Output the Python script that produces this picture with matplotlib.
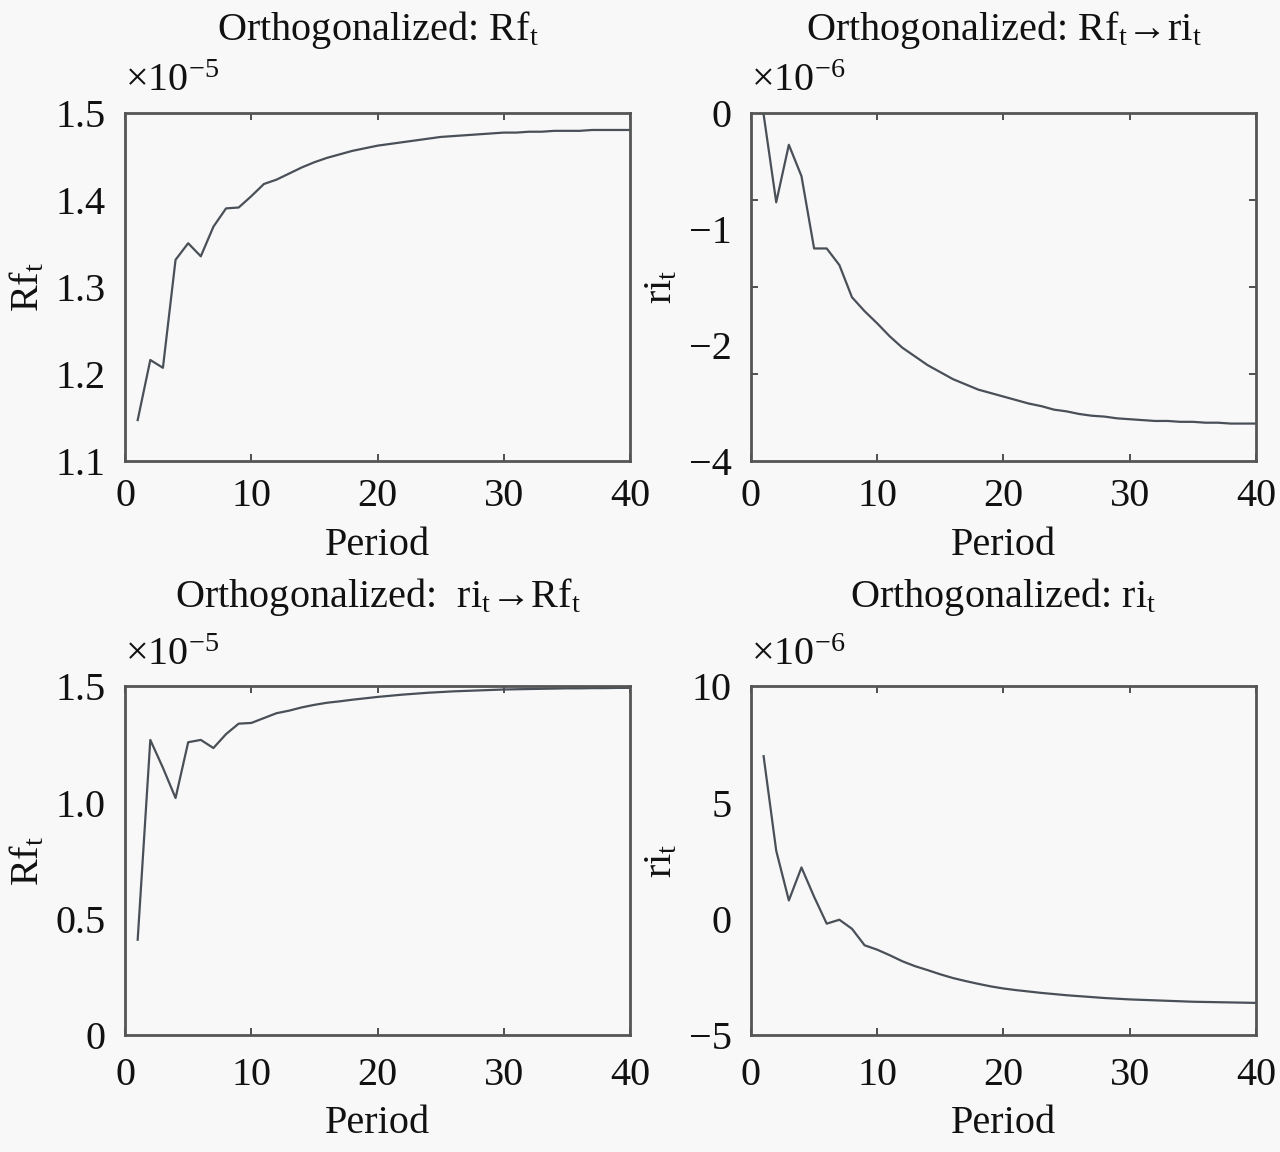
import numpy as np
import matplotlib
matplotlib.use("Agg")
import matplotlib.pyplot as plt

plt.rcParams["font.family"] = ["Liberation Serif", "DejaVu Serif"]
plt.rcParams["mathtext.fontset"] = "custom"
plt.rcParams["mathtext.rm"] = "Liberation Serif"
plt.rcParams["mathtext.it"] = "Liberation Serif:italic"

# Impulse responses, periods 1..40 (values in units of the axis multiplier)
period = np.arange(1, 41)

rf_to_rf = [1.147, 1.216, 1.207, 1.331, 1.350, 1.335, 1.369, 1.390, 1.391, 1.404,
            1.418, 1.423, 1.430, 1.437, 1.443, 1.448, 1.452, 1.456, 1.459, 1.462,
            1.464, 1.466, 1.468, 1.470, 1.472, 1.473, 1.474, 1.475, 1.476, 1.477,
            1.477, 1.478, 1.478, 1.479, 1.479, 1.479, 1.480, 1.480, 1.480, 1.480]

rf_to_ri = [-0.02, -1.03, -0.37, -0.73, -1.56, -1.56, -1.75, -2.12, -2.28, -2.42,
            -2.57, -2.70, -2.80, -2.90, -2.98, -3.06, -3.12, -3.18, -3.22, -3.26,
            -3.30, -3.34, -3.37, -3.41, -3.43, -3.46, -3.48, -3.49, -3.51, -3.52,
            -3.53, -3.54, -3.54, -3.55, -3.55, -3.56, -3.56, -3.57, -3.57, -3.57]

ri_to_rf = [0.41, 1.27, 1.15, 1.02, 1.26, 1.27, 1.235, 1.295, 1.34, 1.343,
            1.364, 1.385, 1.396, 1.41, 1.421, 1.43, 1.436, 1.443, 1.449, 1.455,
            1.460, 1.465, 1.469, 1.473, 1.476, 1.479, 1.481, 1.483, 1.485, 1.487,
            1.488, 1.489, 1.490, 1.491, 1.492, 1.492, 1.493, 1.493, 1.494, 1.494]

ri_to_ri = [7.0, 2.93, 0.79, 2.21, 0.95, -0.21, -0.04, -0.43, -1.14, -1.33,
            -1.57, -1.83, -2.04, -2.21, -2.39, -2.55, -2.68, -2.80, -2.91, -3.0,
            -3.07, -3.13, -3.19, -3.24, -3.29, -3.33, -3.37, -3.41, -3.44, -3.47,
            -3.49, -3.51, -3.53, -3.55, -3.57, -3.58, -3.59, -3.60, -3.61, -3.62]

# tick marks, and where the labels sit (the top-right panel has its labels
# spread evenly, not on the tick marks)
panels = [
    # title, ylabel, data, ylim, tick marks, label positions, labels, exponent
    ("Orthogonalized: Rf$_\\mathregular{t}$", "Rf$_\\mathregular{t}$", rf_to_rf,
     (1.1, 1.5), [1.1, 1.2, 1.3, 1.4, 1.5], [1.1, 1.2, 1.3, 1.4, 1.5],
     ["1.1", "1.2", "1.3", "1.4", "1.5"], "-5"),
    ("Orthogonalized: Rf$_\\mathregular{t}$\u2192ri$_\\mathregular{t}$", "ri$_\\mathregular{t}$", rf_to_ri,
     (-4, 0), [-3, -2, -1], [0, -4 / 3, -8 / 3, -4],
     ["0", "\u22121", "\u22122", "\u22124"], "-6"),
    ("Orthogonalized:  ri$_\\mathregular{t}$\u2192Rf$_\\mathregular{t}$", "Rf$_\\mathregular{t}$", ri_to_rf,
     (0, 1.5), [0, 0.5, 1.0, 1.5], [0, 0.5, 1.0, 1.5],
     ["0", "0.5", "1.0", "1.5"], "-5"),
    ("Orthogonalized: ri$_\\mathregular{t}$", "ri$_\\mathregular{t}$", ri_to_ri,
     (-5, 10), [-5, 0, 5, 10], [-5, 0, 5, 10],
     ["\u22125", "0", "5", "10"], "-6"),
]

bg = "#f8f8f8"
txt = "#111111"
fig = plt.figure(figsize=(12.8, 11.52), dpi=100, facecolor=bg)

lefts = [0.0977, 0.5867]
bottoms = [0.5998, 0.1016]
w, h = 0.3945, 0.3025
fs = 29
title_pad = [52, 57]
xtick_pad = [12, 16]
xlabel_pad = [9, 8]

for i, (title, ylab, vals, ylim, marks, lpos, labels, expo) in enumerate(panels):
    row = i // 2
    ax = fig.add_axes([lefts[i % 2], bottoms[row], w, h], facecolor=bg)
    ax.plot(period, vals, color="#4a5058", linewidth=1.6)
    ax.set_xlim(0, 40)
    ax.set_ylim(*ylim)
    ax.set_xticks([0, 10, 20, 30, 40])
    ax.set_yticks(lpos)
    ax.set_yticklabels(labels)
    ax.set_yticks(marks, minor=True)
    ax.tick_params(axis="both", which="both", direction="in", top=True, right=True,
                   width=1.2, labelsize=fs, labelcolor=txt, color="#333333")
    ax.tick_params(axis="x", which="major", length=5, pad=xtick_pad[row])
    ax.tick_params(axis="y", which="major", length=0, pad=14)
    ax.tick_params(axis="y", which="minor", length=5, labelleft=False)
    for sp in ax.spines.values():
        sp.set_linewidth(2.0)
        sp.set_color("#555555")
    ax.set_title(title, fontsize=fs, pad=title_pad[row], color=txt)
    ax.set_xlabel("Period", fontsize=fs, color=txt, labelpad=xlabel_pad[row])
    ax.set_ylabel(ylab, fontsize=fs, color=txt, labelpad=6)
    ax.text(0.0, 1.035, "$\\times10^{" + expo.replace("-", "\u2212") + "}$",
            transform=ax.transAxes, fontsize=fs, ha="left", va="bottom",
            color=txt)

fig.savefig("out.png", dpi=100, facecolor=bg)
